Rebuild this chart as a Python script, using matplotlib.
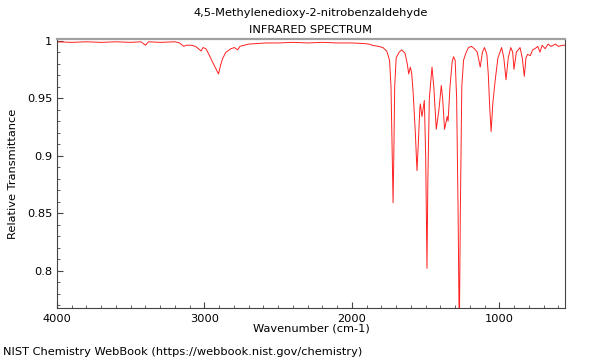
import matplotlib
matplotlib.use('Agg')
import matplotlib.pyplot as plt
from matplotlib.ticker import MultipleLocator, FormatStrFormatter

# spectrum (wavenumber cm-1, relative transmittance)
wavenumber = [4000, 3900, 3800, 3700, 3600, 3500, 3430, 3400, 3380, 3300, 3200,
              3169, 3140, 3124, 3090, 3060, 3023, 3010, 2990, 2966, 2944, 2920,
              2905, 2890, 2875, 2854, 2820, 2797, 2775, 2760, 2700, 2583, 2500,
              2400, 2300, 2200, 2100, 2000, 1920, 1885, 1863, 1820, 1790, 1764,
              1745, 1735, 1727, 1721, 1716, 1710, 1700, 1680, 1662, 1640, 1625,
              1615, 1604, 1595, 1585, 1570, 1559, 1550, 1540, 1536, 1525, 1509,
              1500, 1491, 1485, 1475, 1457, 1445, 1428, 1410, 1394, 1385, 1372,
              1360, 1354, 1348, 1335, 1320, 1311, 1300, 1290, 1280, 1272, 1265,
              1255, 1243, 1225, 1209, 1190, 1170, 1150, 1130, 1115, 1101, 1085,
              1075, 1065, 1056, 1045, 1029, 1010, 985, 970, 955, 940, 923, 910,
              901, 885, 860, 845, 831, 820, 809, 790, 775, 759, 740, 725, 710,
              690, 670, 650, 620, 600, 570, 550]
transmittance = [0.999, 0.9985, 0.999, 0.9985, 0.999, 0.9985, 0.999, 0.996, 0.999,
                 0.9985, 0.999, 0.998, 0.995, 0.996, 0.996, 0.995, 0.991, 0.994,
                 0.993, 0.987, 0.981, 0.975, 0.971, 0.979, 0.985, 0.990, 0.993,
                 0.994, 0.992, 0.995, 0.997, 0.998, 0.998, 0.9985, 0.998, 0.9985,
                 0.998, 0.998, 0.9975, 0.997, 0.996, 0.995, 0.994, 0.991, 0.983,
                 0.96, 0.9, 0.859, 0.9, 0.96, 0.985, 0.99, 0.992, 0.989, 0.98,
                 0.971, 0.977, 0.972, 0.955, 0.92, 0.887, 0.91, 0.94, 0.945, 0.934,
                 0.948, 0.9, 0.802, 0.88, 0.95, 0.977, 0.96, 0.923, 0.94, 0.961,
                 0.95, 0.923, 0.93, 0.934, 0.93, 0.96, 0.982, 0.986, 0.983, 0.95,
                 0.85, 0.74, 0.85, 0.96, 0.983, 0.99, 0.994, 0.995, 0.993, 0.99,
                 0.977, 0.99, 0.994, 0.988, 0.97, 0.94, 0.921, 0.945, 0.965, 0.985,
                 0.994, 0.985, 0.966, 0.985, 0.994, 0.99, 0.975, 0.99, 0.994, 0.985,
                 0.969, 0.985, 0.988, 0.987, 0.992, 0.993, 0.995, 0.99, 0.996,
                 0.993, 0.997, 0.995, 0.997, 0.995, 0.996, 0.996]

fs = 8.2

fig = plt.figure(figsize=(6, 3.6), dpi=100)
ax = fig.add_axes([0.095, 0.1444, 0.8467, 0.7459])
ax.plot(wavenumber, transmittance, color='#ff2020', lw=0.7)

ax.set_xlim(4000, 555)
ax.set_ylim(0.7675, 1.001)
ax.xaxis.set_major_locator(MultipleLocator(1000))
ax.xaxis.set_minor_locator(MultipleLocator(100))
ax.yaxis.set_major_locator(MultipleLocator(0.05))
ax.yaxis.set_minor_locator(MultipleLocator(0.01))
ax.yaxis.set_major_formatter(FormatStrFormatter('%g'))
ax.tick_params(which='both', direction='in', labelsize=fs, color='#444444')
ax.tick_params(which='major', length=4)
ax.tick_params(which='minor', length=2)
ax.tick_params(axis='x', pad=4)

for s in ['left', 'bottom', 'right']:
    ax.spines[s].set_color('#444444')
ax.spines['top'].set_color('#a0a0a0')
ax.spines['top'].set_linewidth(1.6)

ax.set_xlabel('Wavenumber (cm-1)', fontsize=fs, labelpad=0)
ax.set_ylabel('Relative Transmittance', fontsize=fs, labelpad=6)

# title lines
fig.text(0.518, 0.964, '4,5-Methylenedioxy-2-nitrobenzaldehyde', fontsize=fs, ha='center', va='center')
fig.text(0.518, 0.917, 'INFRARED SPECTRUM', fontsize=fs, ha='center', va='center')
fig.text(0.005, 0.022, 'NIST Chemistry WebBook (https://webbook.nist.gov/chemistry)', fontsize=fs, va='center')

fig.savefig('out.png', dpi=100)
